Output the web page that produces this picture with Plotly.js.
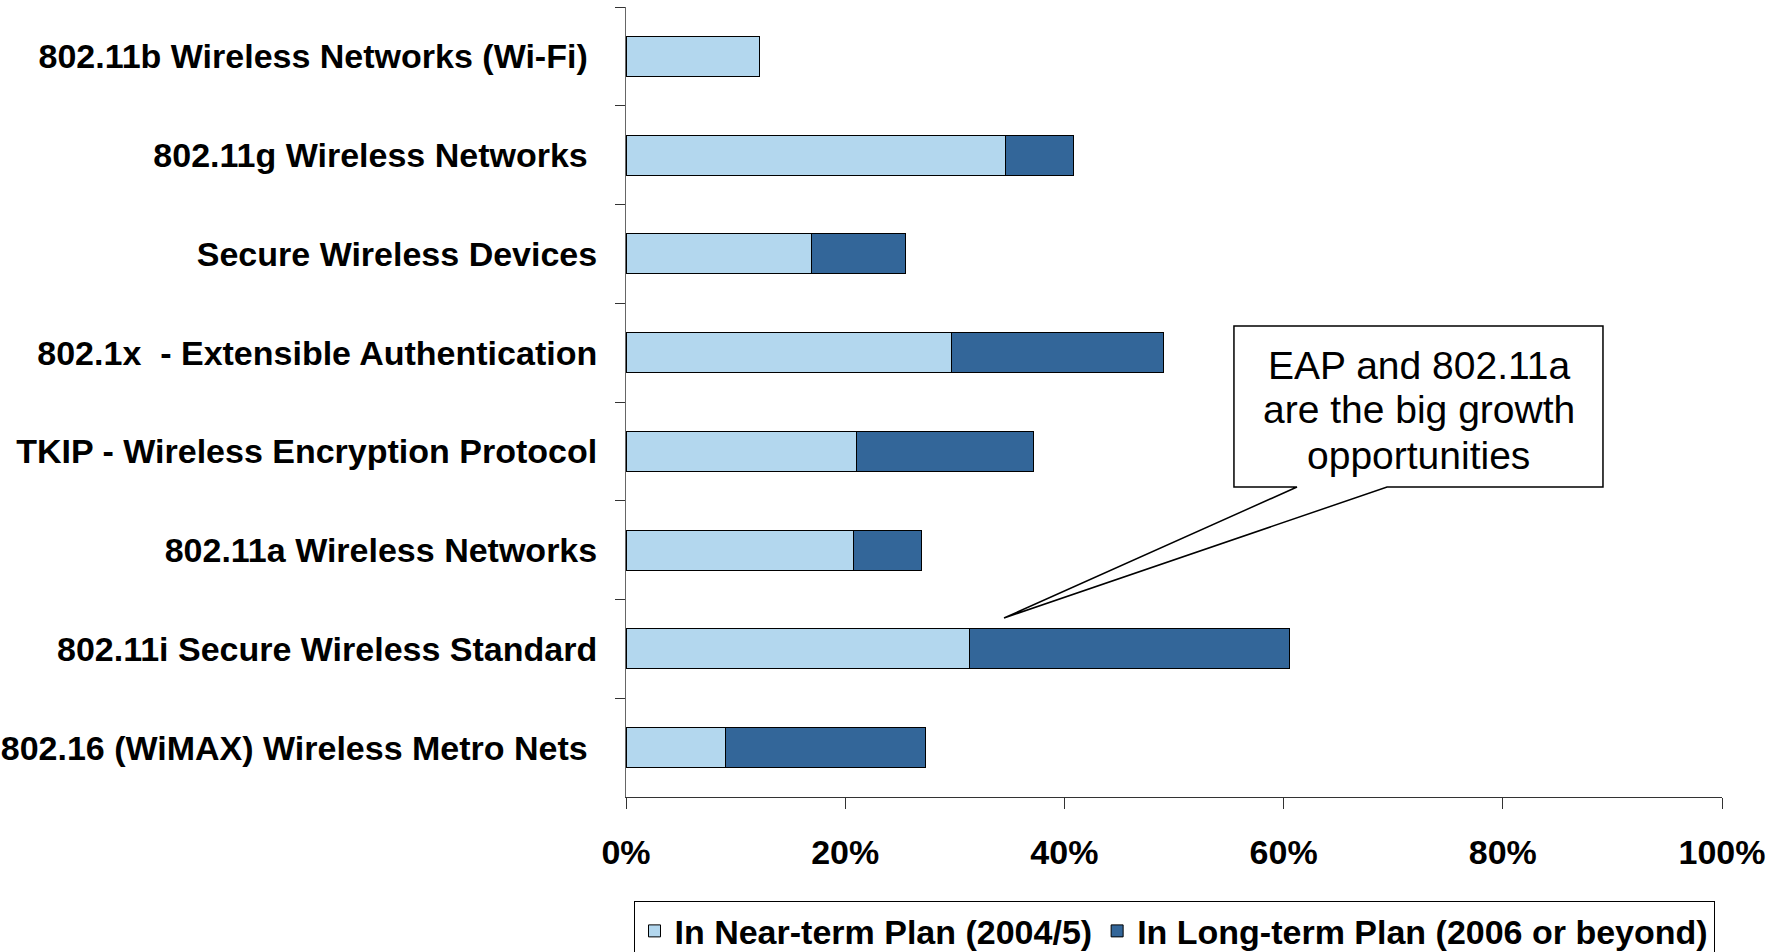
<!DOCTYPE html>
<html>
<head>
<meta charset="utf-8">
<script src="https://cdn.plot.ly/plotly-3.0.1.min.js"></script>
<style>html,body{margin:0;padding:0;background:#fff;}#chart{width:1781px;height:952px;}</style>
</head>
<body>
<div id="chart"></div>
<script>
const categories = [
  "802.11b Wireless Networks (Wi-Fi)\u00a0",
  "802.11g Wireless Networks\u00a0",
  "Secure Wireless Devices",
  "802.1x  - Extensible Authentication",
  "TKIP - Wireless Encryption Protocol",
  "802.11a Wireless Networks",
  "802.11i Secure Wireless Standard",
  "802.16 (WiMAX) Wireless Metro Nets\u00a0"
];
const nearTerm = [12.2, 34.6, 16.9, 29.7, 21.0, 20.8, 31.3, 9.1];
const longTerm = [0, 6.2, 8.6, 19.3, 16.2, 6.2, 29.2, 18.2];
const seriesNames = ["In Near-term Plan (2004/5)", "In Long-term Plan (2006 or beyond)"];
const xTickVals = [0, 20, 40, 60, 80, 100];
const xTickText = ["0%", "20%", "40%", "60%", "80%", "100%"];
const calloutLines = ["EAP and 802.11a", "are the big growth", "opportunities"];

const FONT = "Liberation Sans, Arial, sans-serif";

const traces = [
  {
    type: "bar", orientation: "h", name: seriesNames[0],
    y: categories, x: nearTerm,
    marker: {color: "#B3D7EE", line: {color: "#000000", width: 1}},
    hoverinfo: "x+name"
  },
  {
    type: "bar", orientation: "h", name: seriesNames[1],
    y: categories, x: longTerm,
    marker: {color: "#336699", line: {color: "#000000", width: 1}},
    hoverinfo: "x+name"
  }
];

// callout text line positions (paper coords) — layout only
const lineY = [0.5456, 0.4899, 0.4329];

const layout = {
  width: 1781, height: 952,
  margin: {l: 626, r: 59, t: 7, b: 155, autoexpand: false},
  paper_bgcolor: "#ffffff", plot_bgcolor: "#ffffff",
  barmode: "stack", bargap: 0.595,
  font: {family: FONT, color: "#000000"},
  showlegend: true,
  legend: {
    orientation: "h", x: 0.5, xanchor: "center", y: -0.132, yanchor: "top",
    bordercolor: "#000000", borderwidth: 1, bgcolor: "#ffffff",
    font: {family: FONT, size: 34, color: "#000000", weight: "bold"},
    traceorder: "normal"
  },
  xaxis: {
    range: [0, 100], tickmode: "array", tickvals: xTickVals, ticktext: xTickText,
    showgrid: false, zeroline: false,
    showline: true, linecolor: "#333333", linewidth: 1,
    ticks: "outside", ticklen: 11, tickcolor: "#333333",
    ticklabelstandoff: 14,
    tickfont: {family: FONT, size: 34, color: "#000000", weight: "bold"},
    fixedrange: true
  },
  yaxis: {
    type: "category", autorange: "reversed",
    tickson: "boundaries", showgrid: false, zeroline: false,
    showline: true, linecolor: "#666666", linewidth: 1,
    ticks: "outside", ticklen: 10, tickcolor: "#333333",
    ticklabelstandoff: 21,
    tickfont: {family: FONT, size: 34, color: "#000000", weight: "bold"},
    fixedrange: true
  },
  shapes: [
    {
      type: "path", xref: "paper", yref: "paper",
      path: "M0.5547,0.5962 L0.8914,0.5962 L0.8914,0.3924 L0.6944,0.3924 L0.3449,0.2266 L0.6122,0.3924 L0.5547,0.3924 Z",
      line: {color: "#000000", width: 1.5}, fillcolor: "#ffffff"
    }
  ],
  annotations: calloutLines.map((t, i) => ({
    xref: "paper", yref: "paper", x: 0.7231, y: lineY[i],
    xanchor: "center", yanchor: "middle", showarrow: false,
    text: t, align: "center",
    font: {family: FONT, size: 39, color: "#000000"}
  }))
};

Plotly.newPlot("chart", traces, layout, {displayModeBar: false, staticPlot: true});
</script>
</body>
</html>
